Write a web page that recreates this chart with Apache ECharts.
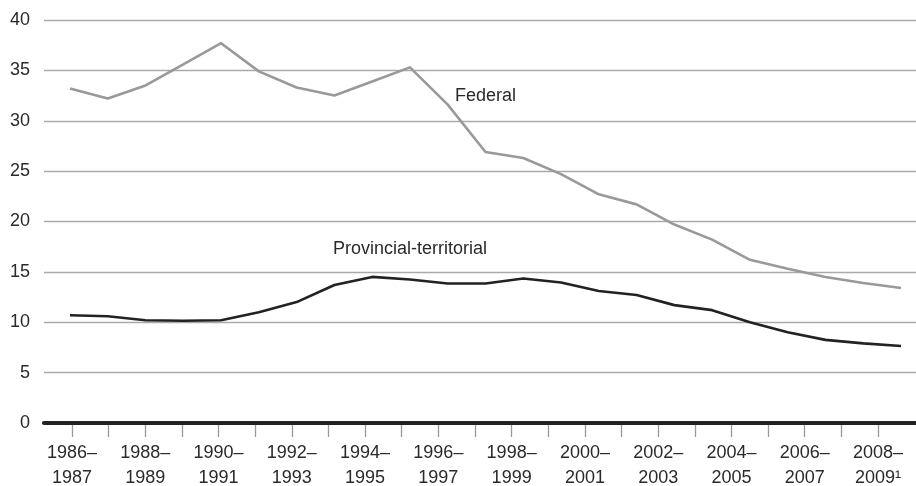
<!DOCTYPE html>
<html>
<head>
<meta charset="utf-8">
<script src="https://cdn.jsdelivr.net/npm/echarts@6/dist/echarts.min.js"></script>
<style>
  html, body { margin: 0; padding: 0; background: #fff; }
  #chart { width: 916px; height: 486px; }
</style>
</head>
<body>
<div id="chart"></div>
<script>
// Fiscal years
const categories = [
  '1986–1987', '1987–1988', '1988–1989', '1989–1990', '1990–1991', '1991–1992',
  '1992–1993', '1993–1994', '1994–1995', '1995–1996', '1996–1997', '1997–1998',
  '1998–1999', '1999–2000', '2000–2001', '2001–2002', '2002–2003', '2003–2004',
  '2004–2005', '2005–2006', '2006–2007', '2007–2008', '2008–2009¹'
];

// Federal series
const federal = [
  33.2, 32.2, 33.5, 35.6, 37.7, 34.9, 33.3, 32.5, 33.9, 35.3, 31.6, 26.9,
  26.3, 24.7, 22.7, 21.7, 19.7, 18.2, 16.2, 15.3, 14.5, 13.9, 13.4
];

// Provincial-territorial series
const provincial = [
  10.7, 10.6, 10.2, 10.15, 10.2, 11.0, 12.0, 13.7, 14.5, 14.25, 13.85, 13.85,
  14.35, 13.95, 13.1, 12.7, 11.7, 11.2, 10.0, 9.0, 8.25, 7.9, 7.65
];

const yMin = 0, yMax = 40, yStep = 5;

const FONT = "'Liberation Sans', Arial, Helvetica, sans-serif";
const TEXT = '#2a2a2a';

const chart = echarts.init(document.getElementById('chart'), null, { renderer: 'canvas' });

const TOP = 20, BOTTOM = 63;
const gridBase = { top: TOP, bottom: BOTTOM, containLabel: false, outerBoundsMode: 'none' };

chart.setOption({
  animation: false,
  backgroundColor: '#fff',
  textStyle: { fontFamily: FONT },
  grid: [
    // frame: value axis, gridlines and the zero baseline
    Object.assign({ left: 44, right: 0 }, gridBase),
    // fiscal-year ticks and labels
    Object.assign({ left: 72, right: 38 }, gridBase),
    // plotted series
    Object.assign({ left: 70, right: 15 }, gridBase)
  ],
  xAxis: [
    {
      gridIndex: 0, type: 'value', min: 0, max: 1, z: 10,
      axisLine: { show: true, lineStyle: { color: '#222', width: 4.2 } },
      axisTick: { show: false }, axisLabel: { show: false }, splitLine: { show: false }
    },
    {
      gridIndex: 1, type: 'category', data: categories, boundaryGap: false, z: 1,
      axisLine: { show: false },
      axisTick: { show: true, inside: false, interval: 0, length: 14, lineStyle: { color: '#999', width: 1.3 } },
      axisLabel: {
        interval: 1, margin: 18, color: TEXT, fontSize: 18, lineHeight: 25, fontFamily: FONT,
        formatter: (v) => v.replace('–', '–\n')
      },
      splitLine: { show: false }
    },
    {
      gridIndex: 2, type: 'category', data: categories, boundaryGap: false, show: false
    }
  ],
  yAxis: [
    {
      gridIndex: 0, type: 'value', min: yMin, max: yMax, interval: yStep,
      axisLine: { show: false }, axisTick: { show: false },
      axisLabel: { color: TEXT, fontSize: 18, margin: 14, fontFamily: FONT },
      splitLine: { show: true, lineStyle: { color: '#aaa', width: 1.3 } }
    },
    { gridIndex: 1, type: 'value', min: yMin, max: yMax, show: false, splitLine: { show: false } },
    { gridIndex: 2, type: 'value', min: yMin, max: yMax, show: false, splitLine: { show: false } }
  ],
  series: [
    {
      name: 'Federal', type: 'line', xAxisIndex: 2, yAxisIndex: 2,
      data: federal, symbol: 'none', smooth: false,
      lineStyle: { color: '#999', width: 2.6, join: 'round' }, z: 3
    },
    {
      name: 'Provincial-territorial', type: 'line', xAxisIndex: 2, yAxisIndex: 2,
      data: provincial, symbol: 'none', smooth: false,
      lineStyle: { color: '#222', width: 2.6, join: 'round' }, z: 3
    }
  ],
  graphic: [
    {
      type: 'text', left: 455, top: 87,
      style: { text: 'Federal', fill: TEXT, font: `18px ${FONT}` }
    },
    {
      type: 'text', left: 333, top: 240,
      style: { text: 'Provincial-territorial', fill: TEXT, font: `18px ${FONT}` }
    }
  ]
});
</script>
</body>
</html>
